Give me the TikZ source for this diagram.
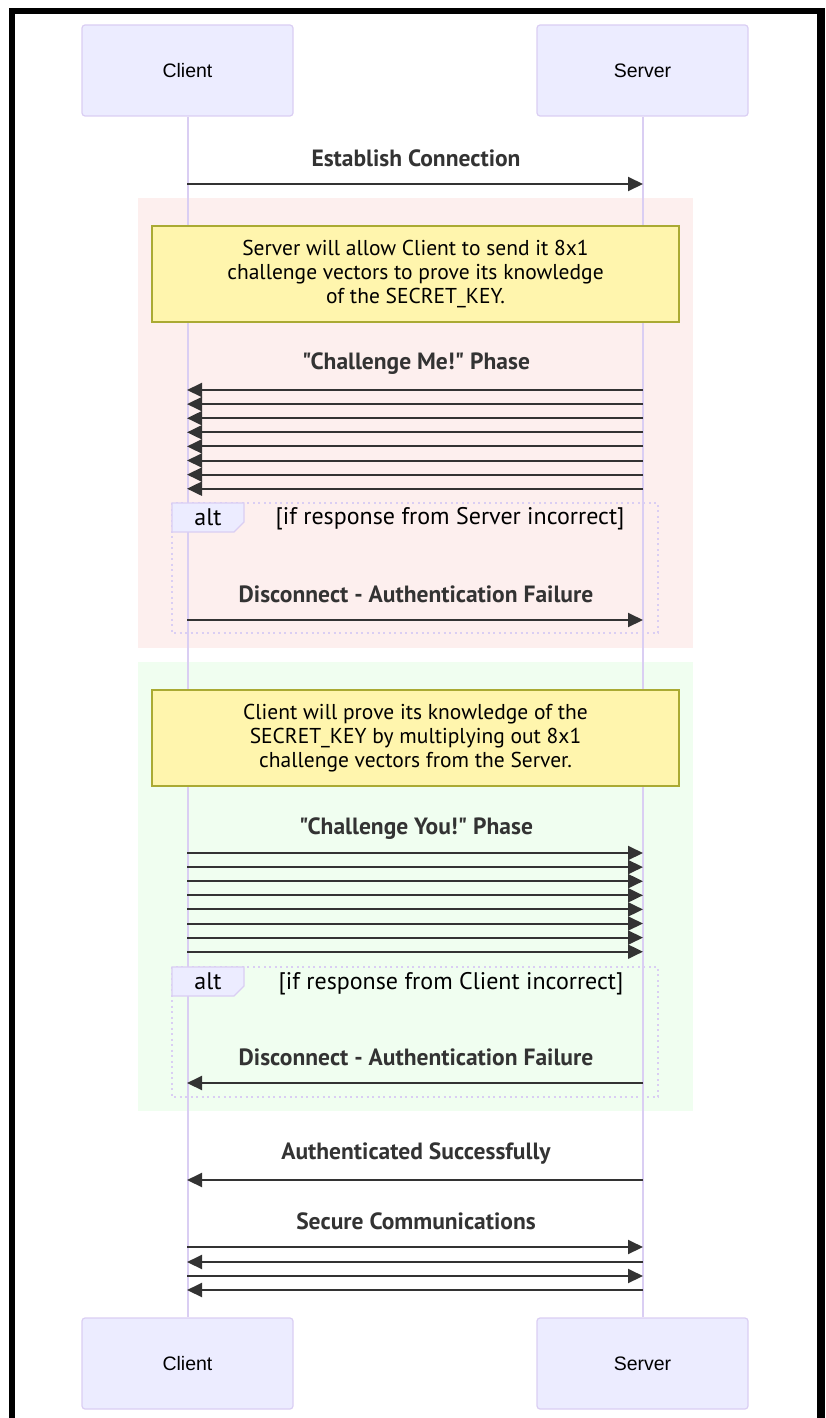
\documentclass[tikz,border=0pt]{standalone}
\usepackage{fontspec}
\setmainfont{PT Sans}[Ligatures=TeXOff]
\newfontfamily\actorfont{Liberation Sans}
\usetikzlibrary{arrows.meta,positioning,calc,math}

\definecolor{actorfill}{HTML}{ECECFF}
\definecolor{actorline}{HTML}{DACEF3}
\definecolor{notefill}{HTML}{FFF5AD}
\definecolor{noteline}{HTML}{AAAA33}
\definecolor{msgcol}{HTML}{333333}
\definecolor{redzone}{HTML}{FDEFEE}
\definecolor{greenzone}{HTML}{F0FEF0}

\tikzset{
  actor/.style={draw=actorline, fill=actorfill, line width=1.2pt, rounded corners=3pt,
    minimum width=211pt, minimum height=91pt, text=black,
    font=\actorfont\fontsize{19.5}{23}\selectfont},
  note/.style={draw=noteline, fill=notefill, line width=1.2pt, minimum width=527pt,
    minimum height=96pt, align=center, text=black, font=\fontsize{21.5}{24}\selectfont},
  msg/.style={draw=msgcol, line width=2pt, -{Triangle[length=15pt,width=14pt]}},
  msglabel/.style={text=msgcol, font=\bfseries\fontsize{23.5}{26}\selectfont},
  lifeline/.style={draw=actorline, line width=2pt},
  altframe/.style={draw=actorline, line width=2pt, dash pattern=on 2pt off 3.5pt},
  alttag/.style={draw=actorline, fill=actorfill, line width=1.2pt},
  alttext/.style={text=black, font=\fontsize{24}{26}\selectfont},
}

\begin{document}
\begin{tikzpicture}[x=1pt,y=-1pt]

% Page size, in screen pixels
\useasboundingbox (0,0) rectangle (825,1418);

% Lifeline positions
\def\cx{187}
\def\sx{643}
% Spacing between stacked vectors
\def\dv{14.1}

% Black window frame (open at the bottom)
\fill[black] (9,8) rectangle (15,1418);
\fill[black] (9,8) rectangle (825,14);
\fill[black] (817,8) rectangle (825,1418);

% Coloured phase zones (drawn first so they sit underneath)
\fill[redzone] (138,198) rectangle (693,648);
\fill[greenzone] (138,662) rectangle (693,1111);

% Actors
\node[actor] (cliTop) at (187.5,70.5) {Client};
\node[actor] (srvTop) at (642.5,70.5) {Server};
\node[actor] (cliBot) at (187.5,1363.5) {Client};
\node[actor] (srvBot) at (642.5,1363.5) {Server};

% Lifelines
\draw[lifeline] (cliTop) -- (cliBot);
\draw[lifeline] (srvTop) -- (srvBot);

% Connection
\node[msglabel] (lblEst) at (416,158) {Establish Connection};
\coordinate (estC) at (\cx,184);
\coordinate (estS) at (\sx,184);
\draw[msg] (estC) -- (estS);

% Server challenges the Client
\node[note] (noteMe) at (415.5,274) {Server will allow Client to send it 8x1\\
  challenge vectors to prove its knowledge\\of the SECRET\_KEY.};
\node[msglabel] (lblMe) at (416,364) {"Challenge Me!" Phase};
\foreach \i in {0,...,7}{
   \tikzmath{\y = 390 + \dv*\i;}
   \coordinate (meS\i) at (\sx,\y);
   \coordinate (meC\i) at (\cx,\y);
   \draw[msg] (meS\i) -- (meC\i);
}

% alt: bad response from Server
\draw[altframe] (172,503) rectangle (658,633);
\draw[alttag] (172,503) -- (244,503) -- (244,522) -- (234,532) -- (172,532) -- cycle;
\node[alttext] (altMe) at (208,517.5) {alt};
\node[alttext] (condMe) at (450,519) {[if response from Server incorrect]};
\node[msglabel] (lblFailMe) at (416,594) {Disconnect - Authentication Failure};
\coordinate (failMeC) at (\cx,620);
\coordinate (failMeS) at (\sx,620);
\draw[msg] (failMeC) -- (failMeS);

% Client answers the challenges
\node[note] (noteYou) at (415.5,738) {Client will prove its knowledge of the\\
  SECRET\_KEY by multiplying out 8x1\\challenge vectors from the Server.};
\node[msglabel] (lblYou) at (416,829) {"Challenge You!" Phase};
\foreach \i in {0,...,7}{
   \tikzmath{\y = 853 + \dv*\i;}
   \coordinate (youC\i) at (\cx,\y);
   \coordinate (youS\i) at (\sx,\y);
   \draw[msg] (youC\i) -- (youS\i);
}

% alt: bad response from Client
\draw[altframe] (172,967) rectangle (658,1097);
\draw[alttag] (172,967) -- (244,967) -- (244,986) -- (234,996) -- (172,996) -- cycle;
\node[alttext] (altYou) at (208,981.5) {alt};
\node[alttext] (condYou) at (451,984) {[if response from Client incorrect]};
\node[msglabel] (lblFailYou) at (416,1057) {Disconnect - Authentication Failure};
\coordinate (failYouS) at (\sx,1083);
\coordinate (failYouC) at (\cx,1083);
\draw[msg] (failYouS) -- (failYouC);

% Success
\node[msglabel] (lblOk) at (416,1154) {Authenticated Successfully};
\coordinate (okS) at (\sx,1180);
\coordinate (okC) at (\cx,1180);
\draw[msg] (okS) -- (okC);

% Secure traffic, both ways
\node[msglabel] (lblSec) at (416,1221) {Secure Communications};
\foreach \i/\y in {0/1247,1/1262,2/1276,3/1290}{
   \coordinate (secC\i) at (\cx,\y);
   \coordinate (secS\i) at (\sx,\y);
   \ifodd\i
      \draw[msg] (secS\i) -- (secC\i);
   \else
      \draw[msg] (secC\i) -- (secS\i);
   \fi
}

\end{tikzpicture}
\end{document}
